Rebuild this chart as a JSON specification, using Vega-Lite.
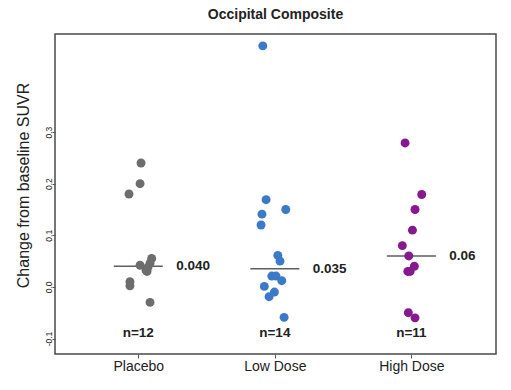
{
  "$schema": "https://vega.github.io/schema/vega-lite/v6.json",
  "autosize": "none",
  "width": 441,
  "height": 320,
  "padding": {"left": 55, "top": 34, "right": 15, "bottom": 36},
  "background": "white",
  "config": {
    "font": "Liberation Sans",
    "view": {"stroke": "#4a4a4a", "strokeWidth": 1.5},
    "axis": {"grid": false, "domain": false, "tickColor": "#555", "labelColor": "#222", "titleColor": "#222"}
  },
  "title": {"text": "Occipital Composite", "fontSize": 14, "fontWeight": "bold", "color": "#222", "offset": 12, "font": "Liberation Sans"},
  "datasets": {
    "pts": [
      {"group": "Placebo", "x": 1.020, "v": 0.24},
      {"group": "Placebo", "x": 1.013, "v": 0.20},
      {"group": "Placebo", "x": 0.932, "v": 0.18},
      {"group": "Placebo", "x": 1.098, "v": 0.055},
      {"group": "Placebo", "x": 1.086, "v": 0.046},
      {"group": "Placebo", "x": 1.013, "v": 0.042},
      {"group": "Placebo", "x": 1.071, "v": 0.038},
      {"group": "Placebo", "x": 1.057, "v": 0.032},
      {"group": "Placebo", "x": 1.064, "v": 0.030},
      {"group": "Placebo", "x": 0.939, "v": 0.010},
      {"group": "Placebo", "x": 0.939, "v": 0.002},
      {"group": "Placebo", "x": 1.086, "v": -0.030},
      {"group": "Low Dose", "x": 1.912, "v": 0.467},
      {"group": "Low Dose", "x": 1.936, "v": 0.169},
      {"group": "Low Dose", "x": 2.080, "v": 0.150},
      {"group": "Low Dose", "x": 1.906, "v": 0.141},
      {"group": "Low Dose", "x": 1.899, "v": 0.120},
      {"group": "Low Dose", "x": 2.022, "v": 0.061},
      {"group": "Low Dose", "x": 2.038, "v": 0.050},
      {"group": "Low Dose", "x": 1.978, "v": 0.021},
      {"group": "Low Dose", "x": 2.009, "v": 0.021},
      {"group": "Low Dose", "x": 2.051, "v": 0.012},
      {"group": "Low Dose", "x": 1.923, "v": 0.001},
      {"group": "Low Dose", "x": 1.997, "v": -0.010},
      {"group": "Low Dose", "x": 1.958, "v": -0.019},
      {"group": "Low Dose", "x": 2.068, "v": -0.059},
      {"group": "High Dose", "x": 2.954, "v": 0.279},
      {"group": "High Dose", "x": 3.076, "v": 0.179},
      {"group": "High Dose", "x": 3.027, "v": 0.150},
      {"group": "High Dose", "x": 3.008, "v": 0.110},
      {"group": "High Dose", "x": 2.934, "v": 0.080},
      {"group": "High Dose", "x": 2.981, "v": 0.060},
      {"group": "High Dose", "x": 3.022, "v": 0.040},
      {"group": "High Dose", "x": 2.974, "v": 0.030},
      {"group": "High Dose", "x": 2.991, "v": 0.030},
      {"group": "High Dose", "x": 2.978, "v": -0.050},
      {"group": "High Dose", "x": 3.027, "v": -0.060}
    ],
    "med": [
      {"group": "Placebo", "g": 1, "median": 0.040, "label": "0.040", "n": "n=12"},
      {"group": "Low Dose", "g": 2, "median": 0.035, "label": "0.035", "n": "n=14"},
      {"group": "High Dose", "g": 3, "median": 0.060, "label": "0.06", "n": "n=11"}
    ]
  },
  "layer": [
    {
      "data": {"name": "med"},
      "mark": {"type": "tick", "orient": "horizontal", "size": 49, "thickness": 1.5, "color": "#1a1a1a"},
      "encoding": {
        "x": {"field": "g", "type": "quantitative",
          "scale": {"domain": [0.39, 3.62], "nice": false, "zero": false},
          "axis": {"values": [1, 2, 3], "title": null, "tickSize": 4, "labelPadding": 1, "labelFontSize": 14,
            "labelExpr": "datum.value == 1 ? 'Placebo' : datum.value == 2 ? 'Low Dose' : 'High Dose'"}},
        "y": {"field": "median", "type": "quantitative",
          "scale": {"domain": [-0.13, 0.49], "nice": false, "zero": false},
          "axis": {"values": [-0.1, 0, 0.1, 0.2, 0.3], "title": "Change from baseline SUVR", "titleFontSize": 16,
            "titleFontWeight": "normal", "titleY": 151, "titlePadding": 13,
            "labelAngle": -90, "labelAlign": "center", "labelBaseline": "alphabetic", "labelFontSize": 8.5,
            "tickSize": 3, "labelPadding": 0.5,
            "labelExpr": "datum.value < 0 ? '-' + format(-datum.value, '.1f') : format(datum.value, '.1f')"}}
      }
    },
    {
      "data": {"name": "pts"},
      "mark": {"type": "point", "filled": true, "shape": "circle", "size": 80, "opacity": 1},
      "encoding": {
        "x": {"field": "x", "type": "quantitative"},
        "y": {"field": "v", "type": "quantitative"},
        "color": {"field": "group", "type": "nominal",
          "scale": {"domain": ["Placebo", "Low Dose", "High Dose"], "range": ["#6d6d6d", "#3b7ac8", "#85198d"]},
          "legend": null}
      }
    },
    {
      "data": {"name": "med"},
      "mark": {"type": "text", "align": "left", "baseline": "middle", "dx": 38, "fontSize": 13.5, "fontWeight": "bold", "color": "#222"},
      "encoding": {
        "x": {"field": "g", "type": "quantitative"},
        "y": {"field": "median", "type": "quantitative"},
        "text": {"field": "label"}
      }
    },
    {
      "data": {"name": "med"},
      "mark": {"type": "text", "align": "center", "baseline": "middle", "fontSize": 13.5, "fontWeight": "bold", "color": "#222"},
      "encoding": {
        "x": {"field": "g", "type": "quantitative"},
        "y": {"datum": -0.09},
        "text": {"field": "n"}
      }
    }
  ]
}
